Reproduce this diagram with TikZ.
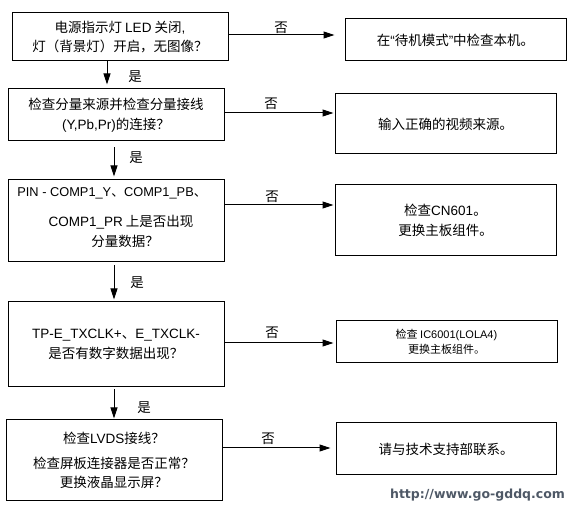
\documentclass[tikz,border=0pt]{standalone}
\usepackage{fontspec}
\setmainfont{Noto Sans CJK SC}
\newfontfamily\lat{Liberation Sans}
\newfontfamily\wm{DejaVu Sans}
\usetikzlibrary{arrows.meta}
\definecolor{wmcol}{HTML}{4E5866}
\tikzset{
  box/.style={draw, line width=1pt, minimum width=216pt, align=center, inner sep=0pt,
    font=\fontsize{13.5}{19.5}\selectfont},
  rbox/.style={draw, line width=1pt, minimum width=221pt, align=center, inner sep=0pt,
    font=\fontsize{13.5}{19.5}\selectfont},
  txt/.style={inner sep=0pt, font=\fontsize{13.5}{19.5}\selectfont},
  lbl/.style={inner sep=0pt, font=\fontsize{13.5}{16}\selectfont},
  arr/.style={line width=1pt, -{Triangle[length=11pt,width=7pt]}},
}
\begin{document}
\begin{tikzpicture}[x=1pt,y=-1pt]
\useasboundingbox (0,0) rectangle (571,510);
% left column
\node[box, minimum height=48pt] (b1) at (120,37) {电源指示灯 {\lat LED} 关闭{\lat ,}\\灯（背景灯）开启，无图像？};
\node[box, minimum height=52pt] (b2) at (116,115) {检查分量来源并检查分量接线\\{\lat (Y,Pb,Pr)}的连接？};
\node[box, minimum height=82pt] (b3) at (116,221) {};
\node[txt, font=\fontsize{12.8}{19.5}\selectfont] (b3a) at (112,193) {{\lat PIN - COMP1\_Y}、{\lat COMP1\_PB}、};
\node[txt] (b3b) at (121,222) {{\lat COMP1\_PR} 上是否出现};
\node[txt] (b3c) at (125,241) {分量数据？};
\node[box, minimum height=85pt] (b4) at (116,344.5) {{\lat TP-E\_TXCLK+}、{\lat E\_TXCLK-}\\是否有数字数据出现？};
\node[box, minimum height=81pt] (b5) at (114,460.5) {检查{\lat LVDS}接线？\\[5pt]检查屏板连接器是否正常？\\更换液晶显示屏？};
% right column
\node[rbox, minimum height=42pt] (r1) at (455.5,40) {在{\lat “}待机模式{\lat ”}中检查本机。};
\node[rbox, minimum height=60pt] (r2) at (445.5,124) {输入正确的视频来源。};
\node[rbox, minimum height=71pt] (r3) at (445.5,220.5) {检查{\lat CN601}。\\更换主板组件。};
\node[rbox, minimum height=42pt, font=\fontsize{11}{15}\selectfont] (r4) at (446.5,342) {检查 {\lat IC6001(LOLA4)}\\更换主板组件。};
\node[rbox, minimum height=52pt, minimum width=220pt] (r5) at (446,449) {请与技术支持部联系。};
% vertical arrows
\draw[arr] ([xshift=-13pt]b1.south) -- ([xshift=-9pt,yshift=4pt]b2.north);
\draw[arr] ([xshift=-2pt,yshift=-6pt]b2.south) -- ([xshift=-2pt,yshift=3pt]b3.north);
\draw[arr] ([xshift=-2pt,yshift=-3pt]b3.south) -- ([xshift=-2pt,yshift=2pt]b4.north);
\draw[arr] ([xshift=-2pt,yshift=-2pt]b4.south) -- ([yshift=1pt]b5.north);
% horizontal arrows
\draw[arr] ([yshift=2pt]b1.east) -- ([xshift=-10pt,yshift=5pt]r1.west);
\draw[arr] ([yshift=2pt]b2.east) -- ([xshift=-1pt,yshift=11pt]r2.west);
\draw[arr] ([yshift=16pt]b3.east) -- ([xshift=-1pt,yshift=15.5pt]r3.west);
\draw[arr] ([yshift=1.5pt]b4.east) -- ([xshift=-2pt,yshift=-1pt]r4.west);
\draw[arr] ([yshift=12.5pt]b5.east) -- ([xshift=-5pt,yshift=1pt]r5.west);
% labels
\node[lbl] (n1) at (281,28) {否};
\node[lbl] (n2) at (271,104) {否};
\node[lbl] (n3) at (272,197) {否};
\node[lbl] (n4) at (272,333) {否};
\node[lbl] (n5) at (268,439) {否};
\node[lbl] (y1) at (135,77) {是};
\node[lbl] (y2) at (136,158) {是};
\node[lbl] (y3) at (137,283) {是};
\node[lbl] (y4) at (144,408) {是};
% watermark
\node[inner sep=0pt, text=wmcol, font=\wm\bfseries\fontsize{12.5}{14}\selectfont] (wm) at (477.5,495) {http://www.go-gddq.com};
\end{tikzpicture}
\end{document}
